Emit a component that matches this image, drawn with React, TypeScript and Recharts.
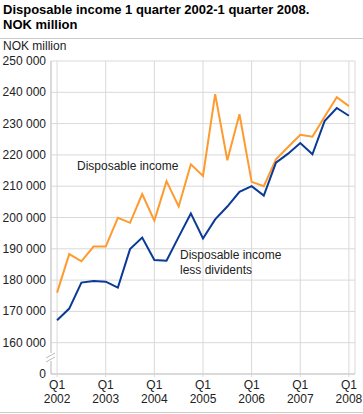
import React from "react";
import { LineChart, Line, XAxis, YAxis, CartesianGrid } from "recharts";

// Quarters Q1 2002 - Q1 2008 (index 0..24)
const quarters = [
  "2002K1", "2002K2", "2002K3", "2002K4",
  "2003K1", "2003K2", "2003K3", "2003K4",
  "2004K1", "2004K2", "2004K3", "2004K4",
  "2005K1", "2005K2", "2005K3", "2005K4",
  "2006K1", "2006K2", "2006K3", "2006K4",
  "2007K1", "2007K2", "2007K3", "2007K4",
  "2008K1",
];

const disposableIncome = [
  176000, 188300, 186000, 190700,
  190700, 199900, 198300, 207500,
  199000, 211600, 203500, 217000,
  213300, 239400, 218300, 233000,
  211400, 210000, 218600, 222500,
  226400, 225800, 232200, 238400,
  235600,
];

const lessDividends = [
  167200, 170900, 179200, 179700,
  179500, 177600, 189900, 193600,
  186400, 186200, 193800, 201300,
  193300, 199400, 203500, 208200,
  210000, 207000, 217500, 220400,
  223800, 220200, 230800, 235000,
  232500,
];

const years = ["2002", "2003", "2004", "2005", "2006", "2007", "2008"];

// the axis is broken: bottom slot (150 000) is shown as 0
const yTicks = [150000, 160000, 170000, 180000, 190000, 200000, 210000, 220000, 230000, 240000, 250000];

const FONT = "Arial, 'Liberation Sans', sans-serif";
const GRID = "#d9d9d9";

const data = quarters.map((q, i) => ({
  i,
  q,
  income: disposableIncome[i],
  less: lessDividends[i],
}));

const fmt = (v: number) =>
  v === 150000 ? "0" : v.toString().replace(/\B(?=(\d{3})+(?!\d))/g, " ");

const XTick = ({ x, y, payload }: any) => {
  const year = years[Math.round(payload.value / 4)];
  return (
    <text x={x} y={y} textAnchor="middle" fontSize={12} fill="#222" fontFamily={FONT}>
      <tspan x={x} dy={10}>Q1</tspan>
      <tspan x={x} dy={14}>{year}</tspan>
    </text>
  );
};

const YTick = ({ y, payload }: any) => (
  <text x={46} y={y} dy={4} textAnchor="end" fontSize={12} fill="#222" fontFamily={FONT}>
    {fmt(payload.value)}
  </text>
);

export default function App() {
  return (
    <div
      style={{
        position: "absolute",
        left: 0,
        top: 0,
        width: 363,
        height: 414,
        background: "#fff",
        fontFamily: FONT,
        overflow: "hidden",
      }}
    >
      <div
        style={{
          position: "absolute",
          left: 3,
          top: 2,
          fontSize: 13,
          fontWeight: "bold",
          lineHeight: "15px",
          color: "#000",
        }}
      >
        Disposable income 1 quarter 2002-1 quarter 2008.
        <br />
        NOK million
      </div>
      <div style={{ position: "absolute", left: 0, top: 38, width: 363, height: 1, background: "#ccc" }} />
      <div style={{ position: "absolute", left: 3, top: 39, fontSize: 12, color: "#222" }}>NOK million</div>

      <LineChart
        width={363}
        height={414}
        data={data}
        margin={{ top: 61, right: 8, bottom: 10, left: 0 }}
        style={{ position: "absolute", left: 0, top: 0 }}
      >
        <CartesianGrid stroke={GRID} strokeWidth={1} />
        <XAxis
          dataKey="i"
          type="number"
          domain={[-0.5, 24.5]}
          ticks={[0, 4, 8, 12, 16, 20, 24]}
          tick={<XTick />}
          tickSize={3}
          tickLine={{ stroke: GRID }}
          axisLine={{ stroke: "#c8c8c8" }}
          height={30}
          interval={0}
        />
        <YAxis
          domain={[150000, 250000]}
          ticks={yTicks}
          width={51}
          tickSize={0}
          axisLine={{ stroke: "#c8c8c8" }}
          tick={<YTick />}
          interval={0}
        />
        <Line
          dataKey="income"
          stroke="#ff9a2e"
          strokeWidth={2}
          dot={false}
          isAnimationActive={false}
        />
        <Line
          dataKey="less"
          stroke="#0a3a96"
          strokeWidth={2}
          dot={false}
          isAnimationActive={false}
        />
      </LineChart>

      {/* axis break marker */}
      <svg width={363} height={414} style={{ position: "absolute", left: 0, top: 0, pointerEvents: "none" }}>
        <rect x={49} y={353} width={4} height={8} fill="#fff" />
        <line x1={46} y1={358} x2={55} y2={353} stroke="#bbb" strokeWidth={1} />
        <line x1={46} y1={362} x2={55} y2={357} stroke="#bbb" strokeWidth={1} />
      </svg>

      <div style={{ position: "absolute", left: 77, top: 159, fontSize: 12, color: "#222", whiteSpace: "nowrap" }}>
        Disposable income
      </div>
      <div style={{ position: "absolute", left: 180, top: 248, fontSize: 12, lineHeight: "15px", color: "#222", whiteSpace: "nowrap" }}>
        Disposable income
        <br />
        less dividents
      </div>

      <div style={{ position: "absolute", left: 0, top: 412, width: 363, height: 1, background: "#ccc" }} />
    </div>
  );
}
